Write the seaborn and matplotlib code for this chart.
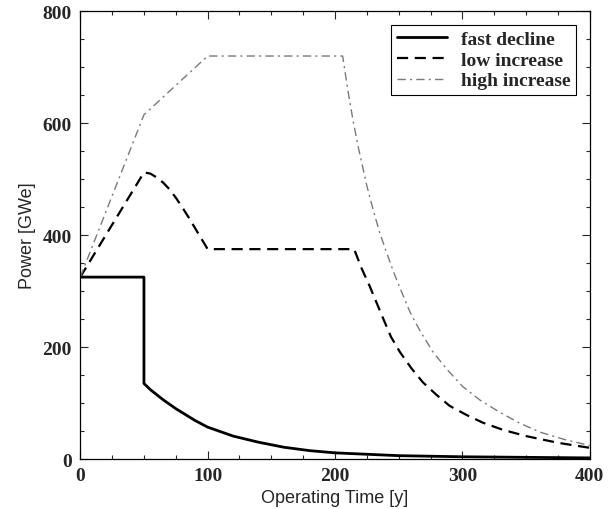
import matplotlib.pyplot as plt
import seaborn as sns
import numpy as np
import pandas as pd
from matplotlib.ticker import MultipleLocator

# values
fast_x = [0, 50, 50, 55, 60, 65, 70, 75, 80, 90, 100, 120, 140, 160, 180, 200, 250, 300, 350, 400]
fast_y = [325, 325, 135, 124, 115, 106, 98, 90, 83, 69, 57, 41, 30, 21, 15, 11, 6, 4, 3, 2]

low_x = [0, 50, 55, 60, 65, 70, 75, 80, 85, 90, 95, 100, 215, 221, 227, 238, 244, 251, 260,
         269, 280, 290, 303, 316, 332, 350, 375, 400]
low_y = [325, 512, 510, 503, 494, 482, 467, 450, 432, 413, 394, 375, 375, 340, 310, 250, 218,
         191, 162, 137, 114, 95, 79, 65, 52, 41, 29, 20]

high_x = [0, 50, 100, 206, 210, 214, 218, 225, 230, 235, 240, 246, 252, 259, 267, 277, 288,
          300, 314, 329, 345, 361, 380, 400]
high_y = [325, 615, 720, 720, 660, 607, 560, 488, 445, 405, 372, 334, 300, 262, 228, 191, 160,
          130, 105, 84, 64, 48, 35, 24]

labels = ["fast decline", "low increase", "high increase"]

sns.set_style("ticks")
plt.rcParams['font.family'] = ['Liberation Sans', 'DejaVu Sans']

fig = plt.figure(figsize=(6.08, 5.10), dpi=100)
ax = fig.add_axes([0.132, 0.098, 0.838, 0.878])

sns.lineplot(x=fast_x, y=fast_y, ax=ax, estimator=None, sort=False,
             color="black", lw=2.0, label=labels[0])
sns.lineplot(x=low_x, y=low_y, ax=ax, estimator=None, sort=False,
             color="black", lw=1.6, label=labels[1])
sns.lineplot(x=high_x, y=high_y, ax=ax, estimator=None, sort=False,
             color="#7a7a7a", lw=1.0, label=labels[2])
ax.lines[1].set_dashes([5, 3])
ax.lines[2].set_dashes([6, 3, 1.5, 3])

ax.set_xlim(0, 400)
ax.set_ylim(0, 800)
ax.xaxis.set_major_locator(MultipleLocator(100))
ax.xaxis.set_minor_locator(MultipleLocator(25))
ax.yaxis.set_major_locator(MultipleLocator(200))
ax.yaxis.set_minor_locator(MultipleLocator(50))
ax.tick_params(which="both", direction="in", top=True, right=True, width=0.8)
ax.tick_params(which="major", length=6, pad=6)
ax.tick_params(which="minor", length=3)
for lab in ax.get_xticklabels() + ax.get_yticklabels():
    lab.set_family("Liberation Serif")
    lab.set_fontweight("bold")
    lab.set_fontsize(14)
for sp in ax.spines.values():
    sp.set_color("black")
    sp.set_linewidth(0.9)

ax.set_xlabel("Operating Time [y]", fontsize=13, labelpad=3)
ax.set_ylabel("Power [GWe]", fontsize=13, labelpad=5)

leg = ax.legend(loc="upper right", fancybox=False, edgecolor="black",
                framealpha=1, handlelength=2.6, borderaxespad=0.7,
                prop={"family": "Liberation Serif", "weight": "bold", "size": 14},
                labelspacing=0.15, borderpad=0.3, handletextpad=0.7)
leg.get_frame().set_linewidth(0.8)

plt.savefig("out.png", dpi=100)
